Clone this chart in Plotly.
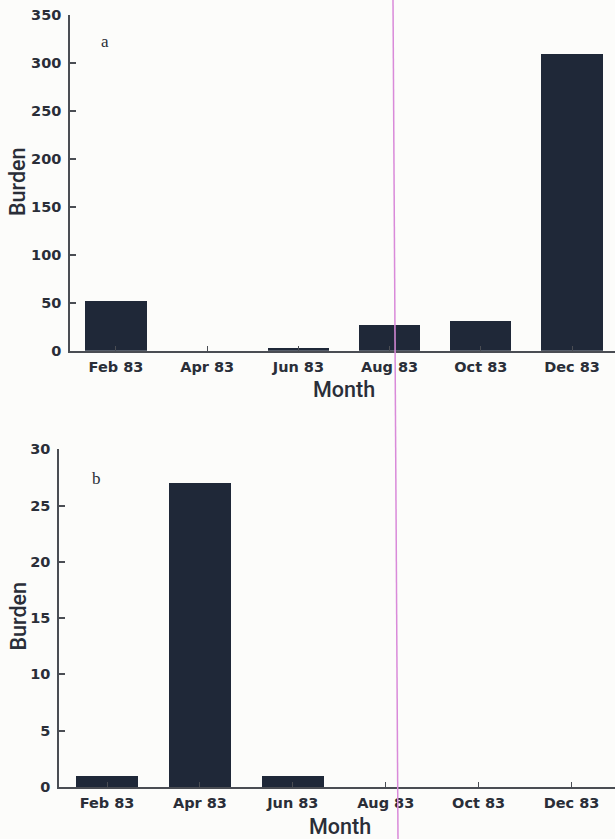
import plotly.graph_objects as go

# Monthly burden, two series (panels a and b)
months = ["Feb 83", "Apr 83", "Jun 83", "Aug 83", "Oct 83", "Dec 83"]
burden_a = [52, 0, 3, 27, 31, 309]
burden_b = [1, 27, 1, 0, 0, 0]
yticks_a = [0, 50, 100, 150, 200, 250, 300, 350]
yticks_b = [0, 5, 10, 15, 20, 25, 30]

W, H = 615, 839
BAR = "#1f2838"
INK = "#2a2e38"
AXIS = "#4a4d53"
BG = "#fcfcfa"


def px_x(p):
    return p / W


def px_y(p):
    return 1 - p / H


tick_font = dict(family="DejaVu Sans", size=14.5, color=INK, weight="bold")
title_font = dict(family="Roboto", size=21.5, color=INK, weight=500)
label_font = dict(family="Liberation Serif", size=17, color=INK)

fig = go.Figure()
fig.add_trace(go.Bar(x=months, y=burden_a, xaxis="x", yaxis="y",
                     marker=dict(color=BAR, line=dict(width=0)), width=0.67))
fig.add_trace(go.Bar(x=months, y=burden_b, xaxis="x2", yaxis="y2",
                     marker=dict(color=BAR, line=dict(width=0)), width=0.67))

xcommon = dict(type="category", categoryorder="array", categoryarray=months,
               showline=True, linecolor=AXIS, linewidth=1.5, showgrid=False,
               zeroline=False, ticks="inside", ticklen=5, tickwidth=1.2,
               tickcolor=AXIS, tickfont=tick_font, ticklabelstandoff=2,
               automargin=False, fixedrange=True)
ycommon = dict(showline=True, linecolor=AXIS, linewidth=1.5, showgrid=False,
               zeroline=False, ticks="inside", ticklen=6, tickwidth=1.5,
               tickcolor=AXIS, tickfont=tick_font, ticklabelstandoff=4,
               automargin=False, fixedrange=True)

fig.update_layout(
    width=W, height=H, autosize=False,
    margin=dict(l=0, r=0, t=0, b=0, pad=0, autoexpand=False),
    paper_bgcolor=BG, plot_bgcolor=BG,
    showlegend=False, bargap=0,
    xaxis=dict(xcommon, domain=[px_x(70), 1], range=[-0.504, 5.471], anchor="y"),
    yaxis=dict(ycommon, domain=[px_y(350.7), px_y(15)], range=[0, 350],
               tickvals=yticks_a, anchor="x"),
    xaxis2=dict(xcommon, domain=[px_x(59), 1], range=[-0.517, 5.468], anchor="y2"),
    yaxis2=dict(ycommon, domain=[px_y(787), px_y(449.2)], range=[0, 30],
                tickvals=yticks_b, anchor="x2"),
)

annotations = [
    dict(text="Month", x=px_x(344), y=px_y(389), font=title_font),
    dict(text="Month", x=px_x(340), y=px_y(826), font=title_font),
    dict(text="Burden", x=px_x(17), y=px_y(182), font=title_font, textangle=-90),
    dict(text="Burden", x=px_x(17.5), y=px_y(616), font=title_font, textangle=-90),
    dict(text="a", x=px_x(105), y=px_y(42), font=label_font),
    dict(text="b", x=px_x(96), y=px_y(478), font=label_font),
]
for a in annotations:
    fig.add_annotation(xref="paper", yref="paper", showarrow=False,
                       xanchor="center", yanchor="middle", **a)

# thin magenta rule running down the page
fig.add_shape(type="line", xref="paper", yref="paper",
              x0=px_x(393), x1=px_x(398), y0=1, y1=0,
              line=dict(color="#d98ad9", width=1.5))

fig.write_html("out.html", config={"displayModeBar": False})
